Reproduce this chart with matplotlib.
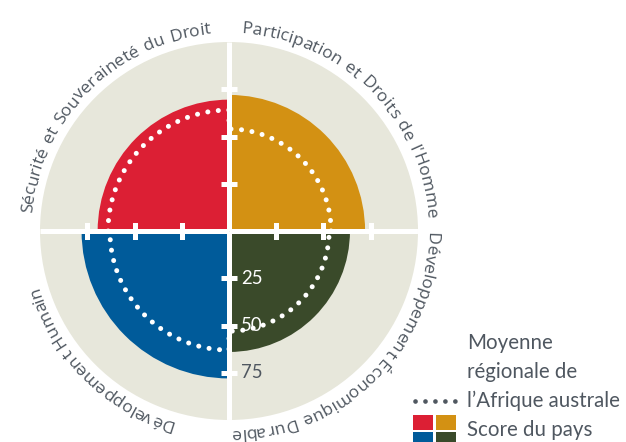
import numpy as np
import matplotlib
matplotlib.use('Agg')
import matplotlib.pyplot as plt
from matplotlib.font_manager import FontProperties, findfont, get_font
from matplotlib.patches import Rectangle
from matplotlib.lines import Line2D

# Quadrants, counter-clockwise from the right-hand side
piliers = ["Participation et Droits de l'Homme",
           "Sécurité et Souveraineté du Droit",
           "Développement Humain",
           "Développement Économique Durable"]
score_pays = [72, 69.5, 78, 64]
moyenne_region = [54, 64, 63, 53]
centre_deg = [45, 135, 225, 315]
graduations = [25, 50, 75]

couleurs = ['#D39113', '#DC1F34', '#005B9A', '#3A4A2A']
GRIS = '#E7E7DB'
TEXTE = '#4F5760'

W, H = 626, 442
fig = plt.figure(figsize=(W / 100, H / 100), dpi=100)

# disc centre / radius in pixels (y from bottom)
cx, cy, R = 229, 211, 189
ax = fig.add_axes([(cx - R) / W, (cy - R) / H, 2 * R / W, 2 * R / H],
                  projection='polar')
ax.set_ylim(0, 100)
ax.set_facecolor(GRIS)
ax.grid(False)
ax.set_xticks([])
ax.set_yticks([])
ax.spines['polar'].set_visible(False)

theta = np.deg2rad(centre_deg)
ax.bar(theta, score_pays, width=np.pi / 2, color=couleurs, linewidth=0, zorder=2)

# white cross + ticks
for k in range(4):
    a = k * np.pi / 2
    ax.plot([a, a], [0, 100], color='white', lw=3.6, zorder=3, solid_capstyle='butt')
    mk = '_' if k % 2 == 1 else '|'
    ax.plot([a] * len(graduations), graduations, ls='none', marker=mk,
            ms=12, mew=3.6, color='white', zorder=4)

# tick labels on the lower axis
fp_lat = FontProperties(family='Lato', size=13.4)
for g in graduations:
    c = 'white' if g < score_pays[3] else TEXTE
    ax.annotate(str(g), xy=(3 * np.pi / 2, g), xytext=(8.5, 0),
                textcoords='offset points', ha='left', va='center',
                color=c, fontproperties=fp_lat, zorder=5)

# regional average: dotted path, one arc per quadrant
th, rr = [], []
for c, m in zip(centre_deg, moyenne_region):
    t = np.linspace(np.deg2rad(c - 45), np.deg2rad(c + 45), 90)
    th.append(t)
    rr.append(np.full_like(t, m))
th.append([2 * np.pi])
rr.append([moyenne_region[0]])
ax.plot(np.concatenate(th), np.concatenate(rr), color='white', lw=3.6,
        ls=(0, (0.01, 2.1)), dash_capstyle='round', zorder=6)

# curved quadrant labels (glyph advances read from the font itself)
fp = FontProperties(family='Open Sans', size=12.6)
font = get_font(findfont(fp))
font.set_size(fp.get_size_in_points(), 100)


def avance(ch):
    a = font.load_char(ord(ch)).linearHoriAdvance / 65536
    return a * 1.3 if ch == ' ' else a


r_txt = 198.0  # baseline radius in px
for label, c in zip(piliers, centre_deg):
    adv = np.array([avance(ch) for ch in label])
    total = adv.sum()
    pos = np.cumsum(adv) - adv / 2
    for ch, p in zip(label, pos):
        ang = np.deg2rad(c) + (total / 2 - p) / r_txt
        ax.text(ang, 100 * r_txt / R, ch, rotation=np.rad2deg(ang) - 90,
                rotation_mode='anchor', ha='center', va='baseline',
                fontproperties=fp, color=TEXTE, clip_on=False)

# legend
fp_leg = FontProperties(family='Lato', size=14.8)
for txt, yb in zip(["Moyenne", "régionale de", "l’Afrique australe", "Score du pays"],
                   [349, 378, 407, 436]):
    fig.text(467 / W, 1 - yb / H, txt, ha='left', va='baseline',
             fontproperties=fp_leg, color=TEXTE)

fig.add_artist(Line2D([415 / W, 458 / W], [1 - 401 / H] * 2, color=TEXTE, lw=3.4,
                      ls=(0, (0.01, 2.1)), dash_capstyle='round'))
for i, col in enumerate([couleurs[1], couleurs[0], couleurs[2], couleurs[3]]):
    x0 = 413 + (i % 2) * 23
    y0 = 415 + (i // 2) * 17
    fig.add_artist(Rectangle((x0 / W, 1 - (y0 + 15) / H), 20 / W, 15 / H,
                             color=col, lw=0))

fig.savefig('out.png', dpi=100)
